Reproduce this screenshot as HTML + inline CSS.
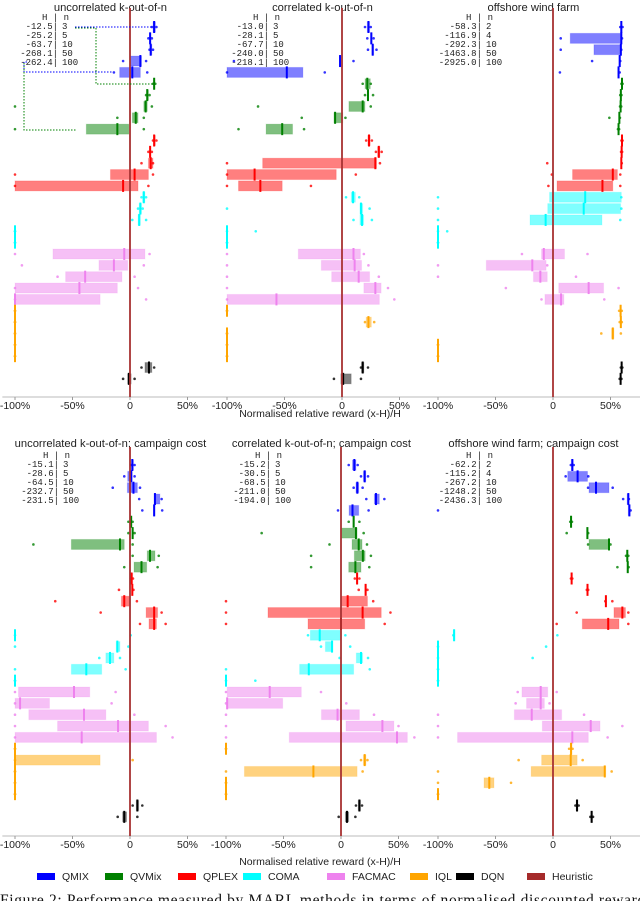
<!DOCTYPE html>
<html><head><meta charset="utf-8">
<style>
html,body{margin:0;padding:0;background:#fff;}
svg{display:block;font-family:"Liberation Sans",sans-serif;}
.mono{font-family:"Liberation Mono",monospace;font-size:9px;fill:#222;}
</style></head>
<body>
<svg id="fig" width="640" height="901" viewBox="0 0 640 901" xmlns="http://www.w3.org/2000/svg">
<g id="plots"></g>
<g id="legend"></g>
<text x="0" y="905" font-family="Liberation Serif, serif" font-size="15.5" textLength="680" lengthAdjust="spacing" fill="#111">Figure 2: Performance measured by MARL methods in terms of normalised discounted reward with</text>
</svg>
<script>
const algorithms = ["QMIX","QVMix","QPLEX","COMA","FACMAC","IQL","DQN","Heuristic"];
const algoColors = ["#0000ff","#008000","#ff0000","#00ffff","#ee82ee","#ffa500","#000000","#a52a2a"];
const tickValues = [-100,-50,0,50];
const tickLabels = ["-100%","-50%","0","50%"];
const M = -100;
const ALLM = [M,M,M,M,M];

const titles = ["uncorrelated k-out-of-n","correlated k-out-of-n","offshore wind farm",
 "uncorrelated k-out-of-n; campaign cost","correlated k-out-of-n; campaign cost","offshore wind farm; campaign cost"];

const tableH = [
 ["-12.5","-25.2","-63.7","-268.1","-262.4"],
 ["-13.0","-28.1","-67.7","-240.0","-218.1"],
 ["-58.3","-116.9","-292.3","-1463.8","-2925.0"],
 ["-15.1","-28.6","-64.5","-232.7","-231.5"],
 ["-15.2","-30.5","-68.5","-211.0","-194.0"],
 ["-62.2","-115.2","-267.2","-1248.2","-2436.3"]];
const tableN = [["3","5","10","50","100"],["3","5","10","50","100"],["2","4","10","50","100"],
 ["3","5","10","50","100"],["3","5","10","50","100"],["2","4","10","50","100"]];

// each row: [lowDot, q1, median, q3, highDot] in % ; 7 algorithms x 5 sizes
const statsUncorr = [
 [19,20,21,22,23],[16,17,17.5,18,19],[17,17.5,18,19,20],[-6,0,9,10,14],[-14,-9,2,9,15],
 [20,20.5,21,21.5,22],[14,14.5,15,16,17],[-100,12,13.6,15,19],[-11,2,5,7,12],[-100,-38,-11,-1,12],
 [20,20.5,21,22,23],[16,17,17.5,18,19],[10,16,18,20,20],[-100,-17,4,16,20],[-100,-100,-6,7,16],
 [10,11,12,13,14],[7,8,9,10,11],[2,7,8,9,14],ALLM,ALLM,
 [-100,-67,-5,13,17],[-94,-27,-14,-2,12],[-63,-56,-39,-7,4],[-100,-100,-44,-11,7],[-100,-100,-100,-26,14],
 ALLM,ALLM,ALLM,ALLM,ALLM,
 [10,13,16.5,19,21],[-6,-2,-1,1,4],null,null,null];
const statsCorr = [
 [20,22,23,24,25],[22,25,25.5,26,27.5],[22.6,26,26.7,27.5,30],[-94,-2,-1.7,-1,10],[-100,-100,-48,-34,-15],
 [18,20,22,24.6,25],[20,22,22.6,23,27],[-73,6,18,20,25],[-35,-7,-6,0.6,3],[-90,-66,-52,-43,-33],
 [21,22.5,23.5,24.5,26],[29.5,31,32,33,34.5],[-100,-69,29,30,33],[-100,-100,-76,-5,12],[-100,-90,-71,-52,-27],
 [3.5,8,9.6,11.6,15],[-100,15.6,16.5,18,24],[10,15.6,17.4,18.8,26],[-100,-100,-100,-100,-75],ALLM,
 [-100,-38,10,16,19],[-100,-18,11,17,23],[-100,-9,14.5,24,32],[-100,19,29,34,40],[-100,-100,-57,32.5,45.5],
 ALLM,[20,21,23,25.5,28],ALLM,ALLM,ALLM,
 [16.5,17,18,19,22.6],[-7,-1,1,8,16.5],null,null,null];
const statsWind = [
 [58.5,59,59.4,60,60.5],[6.7,15,59.4,59.4,60],[6.7,35.6,59,59.4,59.4],[34,57.5,58,58.5,58.5],[6,56.5,57,57.5,58],
 [59.5,59.8,60,60.2,60.5],[58.5,58.8,59,59.2,59.5],[58.3,58.6,58.8,59,59.3],[49,57.4,57.7,58,58.2],[56.5,56.8,57,57.3,57.5],
 [59.5,59.8,60,60.2,60.5],[59.2,59.5,59.7,59.9,60.1],[-5,59.2,59.4,59.6,59.8],[-1,17,52,56,58.5],[-4,3.5,43,52,58.5],
 [-100,-3,28,59.4,59.4],[-100,-4.6,26.7,58.8,59.4],[-100,-20,-6.4,42.6,58.5],[-100,-100,-100,-100,-92],ALLM,
 [-27,-10,-8,10,30],[-100,-58,-18,-6,-5],[-100,-17,-11,-5,20],[-41,5,31,44,57],[-10,-7,7,9.5,44.6],
 [57.5,58.2,58.8,59.2,59.8],[58,58.5,59,59.4,59.8],[42,51,52,53,59],ALLM,ALLM,
 [59,59.4,59.7,60,60.3],[58,58.5,58.8,59,59.5],null,null,null];
const statsUncorrCost = [
 [1,1.5,2,3,4],[-5,-2,1,2,4],[-15,-2.3,3,6.4,8.7],[8,21,21.7,26,27.5],[10.7,20.5,21,21.5,28],
 [-1.4,0.5,1,1.5,2.3],[-1.4,1.8,2.3,2.8,4],[-84,-51,-8.7,-5,2.3],[2.3,15,17.4,21.7,25],[-5,3.5,10,14.5,24],
 [0.6,0.8,1.4,2.3,2.6],[-9.6,1.5,2,2.5,3],[-65,-7.5,-5,-0.6,6],[-25.5,14,21,24,27.5],[8.7,16.5,21,23,31],
 [-100,-100,-100,-100,0.6],[-100,-12,-11,-8.7,-1.4],[-26.7,-21,-17.4,-14,-8.7],[-100,-51,-38,-24.6,-3.8],ALLM,
 [-100,-97,-48.7,-35,-12.5],[-100,-100,-95.6,-70,-16],[-100,-88,-40,-21,3.8],[-100,-63,-10.4,16,31],[-100,-100,-42,23,37],
 ALLM,[-100,-100,-100,-26,2.3],ALLM,ALLM,ALLM,
 [2.3,5.5,6.4,7.5,10.7],[-10.7,-6.4,-5,-3,6.4],null,null,null];
const statsCorrCost = [
 [6.7,10,11.6,13,14.5],[17.4,19.5,20.6,21.5,23.5],[11,13,14.2,15.4,18.8],[22,29,30.4,33.3,37.7],[-2.6,7,10,15.4,24],
 [6.7,10.5,11,11.5,16],[-69,0,13,14,19.7],[-10,9.6,15.4,18.3,22.6],[-26,11.6,19,21,26],[-26,6.7,12.5,17.4,24.6],
 [12,13.5,14,14.5,16],[15.4,21,21.4,22,23],[-100,0.3,5.8,23,28],[-100,-63.5,18.8,35,43],[-100,-28.7,0,20.6,38],
 [-28.7,-26.7,-18.5,-0.6,3.8],[-17.4,-13.6,-7.8,-7,8],[-1.2,13.3,17.4,18.8,23.5],[-100,-36,-28,11,25],[-100,-100,-100,-100,-74.5],
 [-100,-99,-62,-34.5,-17.4],[-100,-99,-99,-50.7,4.6],[-100,-17,-3,16,28.7],[-100,4.3,36,46,50],[-100,-45,48.7,57.7,63.8],
 ALLM,[17.4,19.5,20.6,21.7,23],[-100,-84,-24,14,18.8],ALLM,ALLM,
 [13,15,16,17,18.3],[-2,3.8,5.2,6.7,12.5],null,null,null];
const statsWindCost = [
 [15.5,16,16.8,17.5,18],[11,12.8,21.4,30,30.7],[30.5,31.3,37.4,48.7,51.9],[61,64.5,65.5,66,66],[-100,65.5,66.4,67,67.5],
 [15,15.3,15.7,16.2,16.5],[11.9,29.5,29.9,30.3,30.6],[30.5,31.3,48.7,49,50],[63.5,64.2,64.6,65,65.5],[56,64.6,65,65.4,65.8],
 [15.6,15.9,16.2,16.5,16.8],[29.4,29.7,30,30.3,30.6],[45.5,45.7,46,46.3,51.6],[20.6,53,60.3,63,65.5],[3.2,25.5,48,57.4,65.5],
 [-86.7,-86.7,-86,-85.3,3.8],[-100,-100,-100,-100,-6],[-100,-100,-100,-100,-17.7],ALLM,ALLM,
 [-30.7,-27,-10.7,-4.6,3.2],[-32.5,-23,-10.7,-7.5,-3],[-100,-33.6,-18.5,7.5,27],[-100,-9.3,32.8,40.9,60.3],[-100,-83,16.8,30.7,47.5],
 [14,15,15.7,16.5,17],[-29.9,-9.9,15.4,21,25.8],[-100,-19,45,45.8,51],[-100,-60,-55.4,-51.3,-36.5],ALLM,
 [19.5,20.2,20.9,21.5,22.3],[32.5,33,33.6,34.2,34.8],null,null,null];

const allStats = [statsUncorr,statsCorr,statsWind,statsUncorrCost,statsCorrCost,statsWindCost];
const panelNames = ["uncorrelated","correlated","offshore-wind","uncorrelated-cost","correlated-cost","offshore-wind-cost"];

const NS = "http://www.w3.org/2000/svg";
function mk(tag, attrs, parent){ const e=document.createElementNS(NS,tag); for(const k in attrs) e.setAttribute(k,attrs[k]); parent.appendChild(e); return e; }

const zeros = [[130,342,553],[130,341,553]];
const S = 1.15;
const rowTop = [27,465];
const rowStep = 11.35;
const axisY = [397,836];
const titleY = [11,447];
const lineTop = [8,447];
const plots = document.getElementById('plots');

for(let p=0;p<6;p++){
  const r = Math.floor(p/3), c = p%3;
  const z = zeros[r][c];
  const xs = v => z + v*S;
  const ys = i => rowTop[r] + i*rowStep;
  const g = mk('g',{},plots);
  
  
  const t = mk('text',{x:xs(-17),y:titleY[r],'font-size':'11.2','text-anchor':'middle',fill:'#222'},g);
  t.textContent = titles[p];
  
  
  const ax = mk('line',{x1:xs(-111),x2:xs(76),y1:axisY[r],y2:axisY[r],stroke:'#bbb','stroke-width':1},g);
  
  
  tickValues.forEach((tv,k)=>{
    mk('line',{x1:xs(tv),x2:xs(tv),y1:axisY[r],y2:axisY[r]+3,stroke:'#999','stroke-width':1},g);
    const tl = mk('text',{x:xs(tv),y:axisY[r]+12,'font-size':'10.5','text-anchor':'middle',fill:'#222'},g);
    tl.textContent = tickLabels[k];
    
    
  });
  const hx = [[58,269,482],[59,271,482]][r][c];
  const ty0 = rowTop[r]-10;
  const hd = mk('text',{x:hx+11,y:ty0+3,'class':'mono','text-anchor':'end'},g);
  hd.textContent = 'H | n';
  
  
  for(let k=0;k<5;k++){
    const yy = ty0 + 3 + (k+1)*9;
    const a = mk('text',{x:hx,y:yy,'class':'mono','text-anchor':'end'},g);
    a.textContent = tableH[p][k] + '|';
    
    
    const b = mk('text',{x:hx+4,y:yy,'class':'mono'},g);
    b.textContent = tableN[p][k];
    
    
  }
  allStats[p].forEach((st,i)=>{
    if(!st) return;
    const col = algoColors[Math.floor(i/5)];
    const y = ys(i);
    const bx = xs(st[1]), bw = Math.max(0, xs(st[3])-xs(st[1]));
    const box = mk('rect',{x:bx,y:y-5,width:bw,height:10,fill:col,'fill-opacity':0.5,stroke:col,'stroke-opacity':0.15,'stroke-width':1},g);
    
    
    const med = mk('rect',{x:xs(st[2])-1,y:y-6,width:2,height:12,fill:col},g);
    
    
    [st[0],st[4]].forEach(v=>{
      const d = mk('circle',{cx:xs(v),cy:y,r:1.3,fill:col,'fill-opacity':0.8},g);
      
      
    });
  });
  const h = mk('line',{x1:z,x2:z,y1:lineTop[r],y2:axisY[r],stroke:'#a83232','stroke-width':1.8},g);
  
  
}
const lead = mk('g',{fill:'none','stroke-width':1,'stroke-dasharray':'1.5,1.5'},plots);


mk('polyline',{points:'75,27 154,27',stroke:'#0000ff'},lead);
mk('polyline',{points:'75,28 96,28 96,84 154,84',stroke:'#008000'},lead);
mk('polyline',{points:'27,62 24,62 24,72 113,72',stroke:'#0000ff'},lead);
mk('polyline',{points:'24,63 24,130 76,130',stroke:'#008000'},lead);

[417,865].forEach(yy=>{
  const xl = mk('text',{x:320,y:yy,'font-size':'10.5','text-anchor':'middle',fill:'#222'},plots);
  xl.textContent = 'Normalised relative reward (x-H)/H';
  
  
});
const legend = document.getElementById('legend');
const legX = [37,105,178,243,327,410,456,527];
algorithms.forEach((a,k)=>{
  const sw = mk('rect',{x:legX[k],y:873,width:18,height:7,fill:algoColors[k]},legend);
  
  
  const lt = mk('text',{x:legX[k]+25,y:880,'font-size':'10.5',fill:'#222'},legend);
  lt.textContent = a;
  
  
});
</script>
</body></html>
